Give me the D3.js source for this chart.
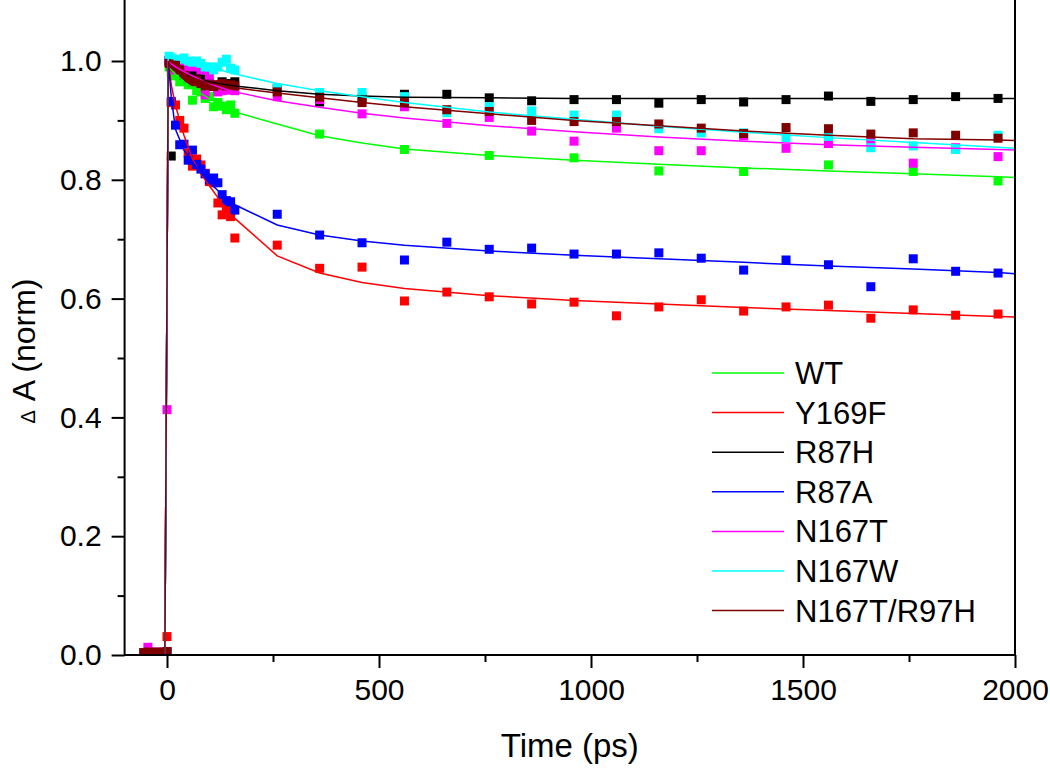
<!DOCTYPE html>
<html>
<head>
<meta charset="utf-8">
<script src="https://cdn.jsdelivr.net/npm/d3@7"></script>
<style>
  html, body { margin: 0; padding: 0; background: #fff; }
  svg { display: block; }
  text { font-family: "Liberation Sans", Arial, Helvetica, sans-serif; fill: #000; }
</style>
</head>
<body>
<svg id="chart" width="1050" height="768"></svg>
<script>
// ---------- data ----------
const seriesNames = ["WT", "Y169F", "R87H", "R87A", "N167T", "N167W", "N167T/R97H"];
const seriesColors = ["#00ff00", "#ff0000", "#000000", "#0000ff", "#ff00ff", "#00ffff", "#800000"];

// measurement times (ps)
const times = [-55, -45, -35, -25, -15, -5, 0,
  5, 10, 20, 30, 40, 50, 60, 70, 80, 90, 100, 110, 120, 130, 140, 150, 160,
  260, 360, 460, 560, 660, 760, 860, 960, 1060, 1160, 1260, 1360, 1460, 1560, 1660, 1760, 1860, 1960];

const wtData = [0.003, 0.004, 0.003, 0.004, 0.003, 0.004, 0.005,
  0.99, 0.98, 0.975, 0.965, 0.97, 0.96, 0.934, 0.95, 0.948, 0.937, 0.94, 0.923, 0.93, 0.924, 0.918, 0.926, 0.912,
  null, 0.877, null, 0.851, null, 0.841, null, 0.837, null, 0.815, null, 0.814, null, 0.825, null, 0.814, null, 0.798];
const y169fData = [0.003, 0.004, 0.003, 0.004, 0.003, 0.004, 0.031,
  1.0, 0.93, 0.926, 0.90, 0.887, 0.845, 0.823, 0.835, 0.825, 0.811, 0.797, 0.795, 0.761, 0.741, 0.751, 0.738, 0.702,
  0.690, 0.651, 0.653, 0.596, 0.611, 0.603, 0.591, 0.594, 0.571, 0.586, 0.598, 0.579, 0.586, 0.589, 0.567, 0.581, 0.572, 0.574];
const r87hData = [0.003, 0.004, 0.003, 0.004, 0.003, 0.004, 0.005,
  1.0, 0.84, 0.99, 0.985, 0.98, 0.975, 0.978, 0.982, 0.97, 0.965, 0.962, 0.958, 0.955, 0.965, 0.96, 0.962, 0.965,
  0.954, 0.931, 0.937, 0.944, 0.944, 0.938, 0.933, 0.935, 0.935, 0.929, 0.935, 0.931, 0.935, 0.941, 0.932, 0.935, 0.940, 0.937];
const r87aData = [0.003, 0.004, 0.003, 0.004, 0.003, 0.004, 0.005,
  1.0, 0.932, 0.892, 0.859, 0.86, 0.833, 0.85, 0.826, 0.818, 0.81, 0.80, 0.803, 0.795, 0.775, 0.765, 0.763, 0.749,
  0.742, 0.707, 0.694, 0.665, 0.695, 0.683, 0.685, 0.675, 0.675, 0.677, 0.668, 0.648, 0.665, 0.657, 0.620, 0.667, 0.646, 0.643];
const n167tData = [0.002, 0.013, 0.003, 0.005, 0.003, 0.005, 0.413,
  1.0, 0.99, 0.985, 0.99, 0.985, 0.993, 0.99, 0.996, 0.985, 0.943, 0.976, 0.96, 0.948, 0.95, 0.951, 0.955, 0.95,
  0.94, 0.935, 0.911, 0.923, 0.895, 0.905, 0.882, 0.865, 0.887, 0.849, 0.849, 0.874, 0.853, 0.861, 0.864, 0.828, 0.854, 0.839];
const n167wData = [0.003, 0.004, 0.003, 0.004, 0.003, 0.004, 0.005,
  1.008, 1.005, 1.0, 1.003, 1.005, 1.0, 0.998, 1.0, 0.996, 0.99, 0.99, 0.985, 0.99, 0.998, 1.003, 0.988, 0.985,
  0.954, 0.947, 0.947, 0.940, 0.913, 0.923, 0.916, 0.909, 0.909, 0.886, 0.879, 0.879, 0.871, 0.873, 0.854, 0.857, 0.851, 0.875];
const n167tr97hData = [0.004, 0.005, 0.004, 0.005, 0.004, 0.005, 0.006,
  0.996, 0.99, 0.993, 0.985, 0.976, 0.97, 0.965, 0.968, 0.962, 0.958, 0.96, 0.957, 0.96, 0.962, 0.958, 0.96, 0.958,
  0.948, 0.939, 0.930, 0.930, 0.918, 0.915, 0.900, 0.898, 0.898, 0.894, 0.887, 0.878, 0.888, 0.886, 0.877, 0.879, 0.875, 0.870];

// fitted curves, sampled at these times (ps)
const fitTimes = [-55, -5, 3, 10, 20, 40, 60, 80, 100, 120, 140, 160, 260, 360, 460, 560, 760, 960, 1160, 1360, 1560, 1760, 1960, 2000];
const wtFit      = [0, 0, 0.99, 0.985, 0.978, 0.965, 0.955, 0.945, 0.937, 0.929, 0.921, 0.914, 0.894, 0.874, 0.862, 0.852, 0.841, 0.833, 0.826, 0.82, 0.815, 0.81, 0.805, 0.804];
const y169fFit   = [0, 0, 1.0, 0.96, 0.925, 0.875, 0.835, 0.81, 0.79, 0.77, 0.75, 0.735, 0.672, 0.643, 0.627, 0.617, 0.605, 0.597, 0.591, 0.585, 0.58, 0.575, 0.57, 0.569];
const r87hFit    = [0, 0, 1.0, 0.99, 0.985, 0.978, 0.972, 0.968, 0.965, 0.962, 0.96, 0.958, 0.95, 0.944, 0.941, 0.939, 0.938, 0.937, 0.937, 0.937, 0.937, 0.937, 0.937, 0.937];
const r87aFit    = [0, 0, 1.0, 0.94, 0.885, 0.85, 0.83, 0.812, 0.795, 0.782, 0.77, 0.758, 0.724, 0.707, 0.697, 0.69, 0.68, 0.673, 0.667, 0.661, 0.655, 0.65, 0.644, 0.642];
const n167tFit   = [0, 0, 1.0, 0.995, 0.99, 0.982, 0.975, 0.968, 0.962, 0.957, 0.952, 0.948, 0.933, 0.922, 0.912, 0.904, 0.891, 0.881, 0.872, 0.865, 0.859, 0.855, 0.851, 0.85];
const n167wFit   = [0, 0, 1.005, 1.004, 1.003, 1.0, 0.997, 0.993, 0.99, 0.986, 0.982, 0.978, 0.962, 0.95, 0.94, 0.93, 0.914, 0.902, 0.89, 0.88, 0.871, 0.863, 0.855, 0.853];
const n167tr97hFit = [0, 0, 1.0, 0.99, 0.985, 0.978, 0.972, 0.967, 0.963, 0.96, 0.957, 0.955, 0.946, 0.938, 0.93, 0.923, 0.911, 0.9, 0.891, 0.882, 0.875, 0.869, 0.867, 0.866];

const xTicksMajor = [0, 500, 1000, 1500, 2000];
const xTicksMinor = [250, 750, 1250, 1750];
const yTicksMajor = [0.0, 0.2, 0.4, 0.6, 0.8, 1.0];
const yTicksMinor = [0.1, 0.3, 0.5, 0.7, 0.9];

const dataArrays = [wtData, y169fData, r87hData, r87aData, n167tData, n167wData, n167tr97hData];
const fitArrays = [wtFit, y169fFit, r87hFit, r87aFit, n167tFit, n167wFit, n167tr97hFit];

// ---------- drawing ----------
const svg = d3.select("#chart");
const L = 124.6, R = 1015, T = 1.6, B = 655;
const x = d3.scaleLinear().domain([-100, 2000]).range([L, R]);
const y = d3.scaleLinear().domain([0, 1.1]).range([B, T]);

const plot = svg.append("g");
plot.append("clipPath").attr("id", "clip")
  .append("rect").attr("x", L).attr("y", 0).attr("width", R - L).attr("height", B);

const gPoints = plot.append("g").attr("clip-path", "url(#clip)");
const gLines = plot.append("g").attr("clip-path", "url(#clip)");
const ms = 9;

dataArrays.forEach((arr, i) => {
  const pts = times.map((t, j) => ({ t, v: arr[j] })).filter(d => d.v != null);
  gPoints.append("g").selectAll("rect").data(pts).join("rect")
    .attr("x", d => x(d.t) - ms / 2)
    .attr("y", d => y(d.v) - ms / 2)
    .attr("width", ms).attr("height", ms)
    .attr("fill", seriesColors[i]);
});

const line = d3.line().x(d => x(d.t)).y(d => y(d.v));
fitArrays.forEach((arr, i) => {
  const pts = fitTimes.map((t, j) => ({ t, v: arr[j] }));
  gLines.append("path").datum(pts)
    .attr("d", line)
    .attr("fill", "none")
    .attr("stroke", seriesColors[i])
    .attr("stroke-width", 1.5);
});

// axes
const axisG = svg.append("g");
const xAxis = d3.axisBottom(x).tickValues(xTicksMajor).tickSize(13).tickPadding(11).tickFormat(d3.format("d"));
const gx = axisG.append("g").attr("transform", `translate(0,${B})`).call(xAxis);
gx.select(".domain").remove();
gx.selectAll("line").attr("stroke", "#000").attr("stroke-width", 2);
gx.selectAll("text").attr("font-size", 30).attr("font-family", "'Liberation Sans', Arial, sans-serif");
const xAxisMinor = d3.axisBottom(x).tickValues(xTicksMinor).tickSize(7).tickFormat("");
const gxm = axisG.append("g").attr("transform", `translate(0,${B})`).call(xAxisMinor);
gxm.select(".domain").remove();
gxm.selectAll("line").attr("stroke", "#000").attr("stroke-width", 2);

const yAxis = d3.axisLeft(y).tickValues(yTicksMajor).tickSize(13).tickPadding(10).tickFormat(d3.format(".1f"));
const gy = axisG.append("g").attr("transform", `translate(${L},0)`).call(yAxis);
gy.select(".domain").remove();
gy.selectAll("line").attr("stroke", "#000").attr("stroke-width", 2);
gy.selectAll("text").attr("font-size", 30).attr("font-family", "'Liberation Sans', Arial, sans-serif");
const yAxisMinor = d3.axisLeft(y).tickValues(yTicksMinor).tickSize(7).tickFormat("");
const gym = axisG.append("g").attr("transform", `translate(${L},0)`).call(yAxisMinor);
gym.select(".domain").remove();
gym.selectAll("line").attr("stroke", "#000").attr("stroke-width", 2);

// frame lines
axisG.append("line").attr("x1", L).attr("x2", R).attr("y1", B).attr("y2", B).attr("stroke", "#000").attr("stroke-width", 2);
axisG.append("line").attr("x1", L).attr("x2", L).attr("y1", 0).attr("y2", B + 1).attr("stroke", "#000").attr("stroke-width", 2);
axisG.append("line").attr("x1", R).attr("x2", R).attr("y1", 0).attr("y2", B + 1).attr("stroke", "#000").attr("stroke-width", 2);

// axis titles
svg.append("text").attr("x", (L + R) / 2).attr("y", 757).attr("text-anchor", "middle")
  .attr("font-size", 33).text("Time (ps)");
const yt = svg.append("text").attr("transform", "translate(35,351) rotate(-90)").attr("text-anchor", "middle")
  .attr("font-size", 32);
yt.append("tspan").attr("font-size", 20).text("Δ");
yt.append("tspan").text(" A (norm)");

// legend
const leg = svg.append("g");
seriesNames.forEach((name, i) => {
  const ly = 373 + i * 39.6;
  leg.append("line").attr("x1", 712).attr("x2", 784).attr("y1", ly).attr("y2", ly)
    .attr("stroke", seriesColors[i]).attr("stroke-width", 1.5);
  leg.append("text").attr("x", 795).attr("y", ly + 11).attr("font-size", 31).text(name);
});
</script>
</body>
</html>
